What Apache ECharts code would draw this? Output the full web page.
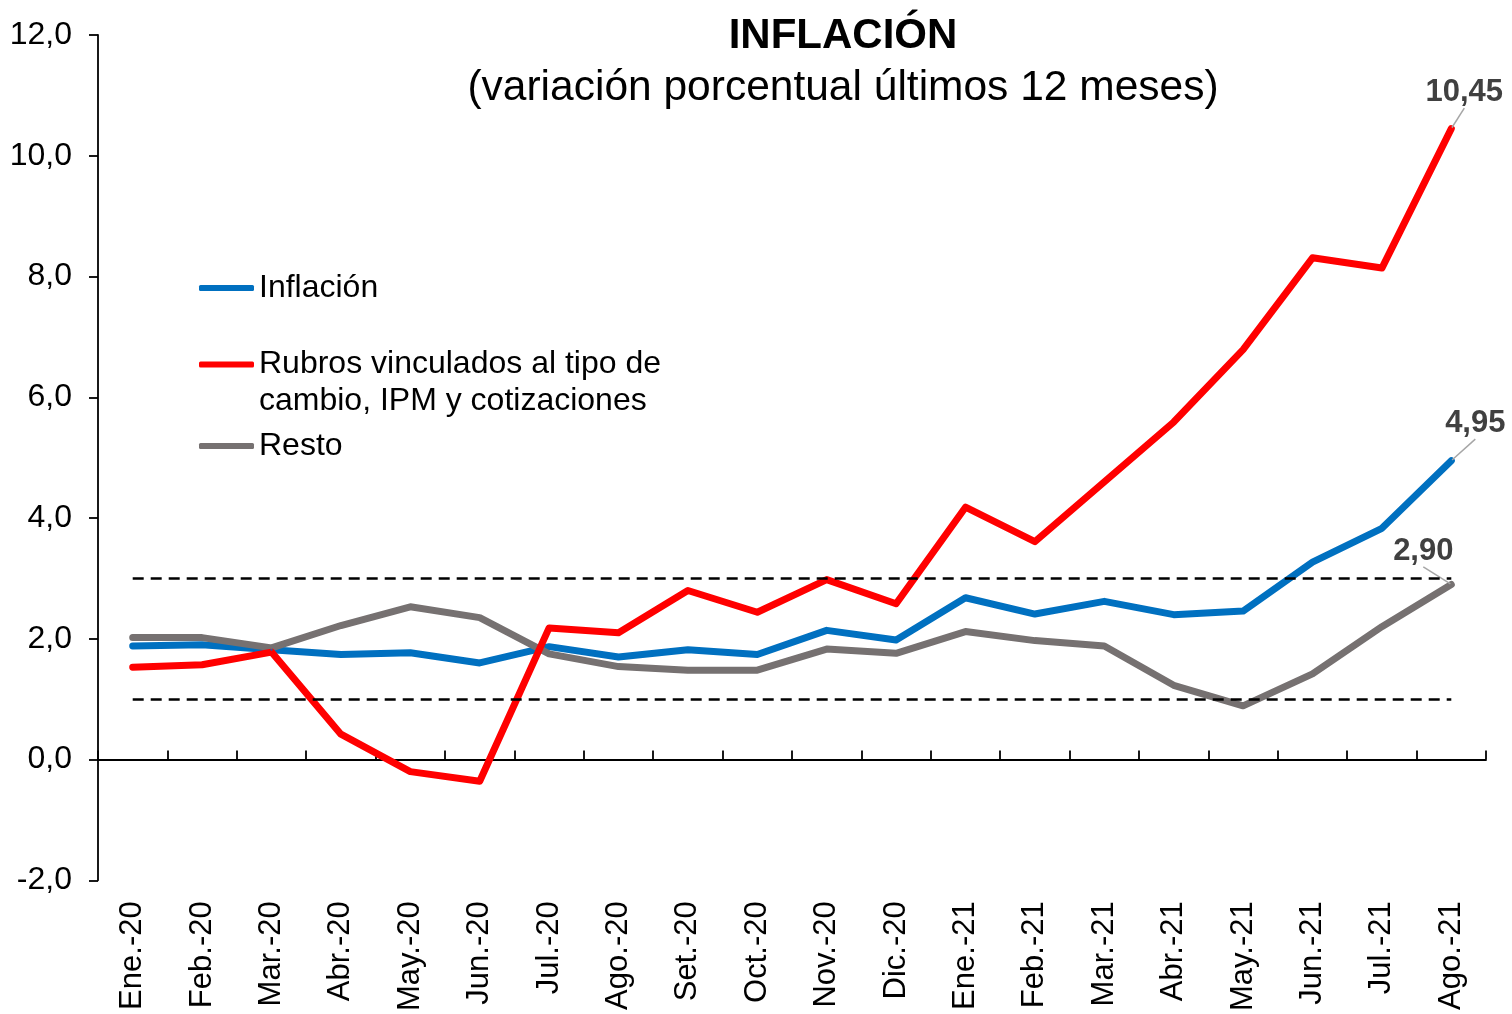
<!DOCTYPE html>
<html>
<head>
<meta charset="utf-8">
<script src="https://cdn.jsdelivr.net/npm/echarts@6/dist/echarts.min.js"></script>
<style>
  html, body { margin: 0; padding: 0; background: #fff; }
  #chart { width: 1512px; height: 1014px; }
</style>
</head>
<body>
<div id="chart"></div>
<script>
// Meses del período
const categories = ['Ene.-20', 'Feb.-20', 'Mar.-20', 'Abr.-20', 'May.-20', 'Jun.-20', 'Jul.-20',
  'Ago.-20', 'Set.-20', 'Oct.-20', 'Nov.-20', 'Dic.-20', 'Ene.-21', 'Feb.-21', 'Mar.-21',
  'Abr.-21', 'May.-21', 'Jun.-21', 'Jul.-21', 'Ago.-21'];

// Variación porcentual de los últimos 12 meses
const inflacion = [1.88, 1.90, 1.82, 1.74, 1.77, 1.60, 1.87, 1.70, 1.82, 1.74,
  2.14, 1.98, 2.68, 2.41, 2.62, 2.40, 2.46, 3.27, 3.83, 4.95];
const rubrosTipoCambio = [1.53, 1.57, 1.78, 0.42, -0.20, -0.36, 2.18, 2.10, 2.80, 2.44,
  2.98, 2.58, 4.18, 3.61, 4.60, 5.59, 6.79, 8.31, 8.14, 10.45];
const resto = [2.02, 2.02, 1.85, 2.22, 2.53, 2.35, 1.75, 1.54, 1.48, 1.48,
  1.83, 1.76, 2.12, 1.97, 1.88, 1.23, 0.89, 1.42, 2.20, 2.90];

// Rango meta (líneas punteadas)
const rangoMeta = [1, 3];

// Eje vertical
const yMin = -2, yMax = 12, yStep = 2;

const FONT = '"Liberation Sans", Arial, sans-serif';
const last = categories.length - 1;
const fmt = (v, d) => v.toFixed(d).replace('.', ',');

const nameInfl = 'Inflación';
const nameRubros = 'Rubros vinculados al tipo de cambio, IPM y cotizaciones';
const nameResto = 'Resto';

function lineSeries(name, values, color, shift) {
  return {
    name: name,
    type: 'line',
    xAxisIndex: 0,
    data: values.map((v, i) => i === last ? { value: v, label: { show: true } } : v),
    color: color,
    lineStyle: { width: 7, color: color, cap: 'round', join: 'round' },
    itemStyle: { color: color },
    showSymbol: true,
    symbol: 'circle',
    symbolSize: 2,
    label: {
      show: false,
      position: 'inside',
      formatter: p => fmt(p.value, 2),
      fontFamily: FONT,
      fontSize: 31,
      fontWeight: 'bold',
      color: '#404040'
    },
    labelLine: { show: true, lineStyle: { color: '#A6A6A6', width: 1.5 } },
    labelLayout: p => (p.dataIndex === last ? { dx: shift[0], dy: shift[1] } : {}),
    emphasis: { disabled: true },
    silent: true,
    z: 3
  };
}

const legendBase = {
  padding: 0, selectedMode: false, left: 199,
  icon: 'roundRect', itemWidth: 55, itemHeight: 6
};
const legendText = { fontFamily: FONT, fontSize: 32, color: '#000' };

const chart = echarts.init(document.getElementById('chart'), null, { renderer: 'canvas' });

chart.setOption({
  animation: false,
  backgroundColor: '#fff',
  grid: { left: 98, right: 26, top: 35, bottom: 132, containLabel: false },
  graphic: [
    {
      type: 'text', x: 843, y: 36,
      style: { text: 'INFLACIÓN', font: 'bold 42px ' + FONT, fill: '#000', textAlign: 'center', textVerticalAlign: 'middle' }
    },
    {
      type: 'text', x: 843, y: 88,
      style: { text: '(variación porcentual últimos 12 meses)', font: '42.5px ' + FONT, fill: '#000', textAlign: 'center', textVerticalAlign: 'middle' }
    }
  ],
  legend: [
    Object.assign({}, legendBase, {
      data: [nameInfl], top: 270,
      textStyle: Object.assign({ lineHeight: 36 }, legendText)
    }),
    Object.assign({}, legendBase, {
      data: [nameRubros], top: 309,
      // empty first line keeps the marker level with the first text line
      formatter: () => '\nRubros vinculados al tipo de\ncambio, IPM y cotizaciones',
      textStyle: Object.assign({ lineHeight: 37 }, legendText)
    }),
    Object.assign({}, legendBase, {
      data: [nameResto], top: 428,
      textStyle: Object.assign({ lineHeight: 36 }, legendText)
    })
  ],
  xAxis: [
    {
      type: 'category',
      data: categories,
      position: 'bottom',
      boundaryGap: true,
      axisLine: { show: true, onZero: true, lineStyle: { color: '#000', width: 1.8 } },
      axisTick: { show: true, inside: true, length: 9, lineStyle: { color: '#000', width: 1.8 } },
      axisLabel: { show: false },
      splitLine: { show: false }
    },
    {
      type: 'category',
      data: categories,
      position: 'bottom',
      boundaryGap: true,
      axisLine: { show: false, onZero: false },
      axisTick: { show: false },
      axisLabel: {
        show: true, rotate: 90, margin: 21, interval: 0,
        fontFamily: FONT, fontSize: 31, color: '#000'
      },
      splitLine: { show: false }
    }
  ],
  yAxis: {
    type: 'value',
    min: yMin, max: yMax, interval: yStep,
    axisLine: { show: true, lineStyle: { color: '#000', width: 1.8 } },
    axisTick: { show: true, inside: false, length: 9, lineStyle: { color: '#000', width: 1.8 } },
    axisLabel: {
      margin: 26, fontFamily: FONT, fontSize: 32, color: '#000',
      formatter: v => fmt(v, 1)
    },
    splitLine: { show: false }
  },
  series: [
    lineSeries(nameInfl, inflacion, '#0070C0', [24, -37]),
    lineSeries(nameResto, resto, '#767171', [-28, -33]),
    lineSeries(nameRubros, rubrosTipoCambio, '#FF0000', [13, -36]),
    {
      name: 'rango',
      type: 'line',
      xAxisIndex: 0,
      data: [],
      silent: true,
      z: 5,
      markLine: {
        silent: true,
        symbol: 'none',
        label: { show: false },
        lineStyle: { color: '#000', width: 2.5, type: [11, 7] },
        emphasis: { disabled: true },
        data: rangoMeta.map(v => [
          { coord: [categories[0], v] },
          { coord: [categories[last], v] }
        ])
      }
    }
  ]
});
</script>
</body>
</html>
